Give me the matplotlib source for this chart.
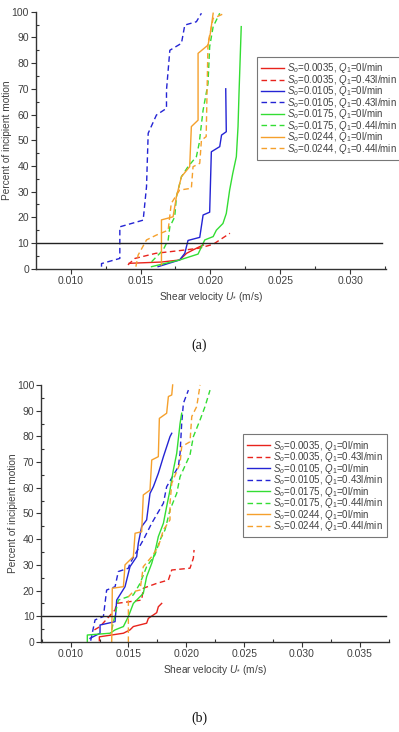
import matplotlib
matplotlib.use("Agg")
import matplotlib.pyplot as plt
from matplotlib.ticker import MultipleLocator

plt.rcParams['font.family'] = ['Liberation Sans', 'DejaVu Sans']
plt.rcParams['mathtext.fontset'] = 'custom'
plt.rcParams['mathtext.it'] = 'Liberation Sans:italic'
plt.rcParams['mathtext.rm'] = 'Liberation Sans'
plt.rcParams['mathtext.sf'] = 'Liberation Sans'

TXT = '#404040'

labels = [r'$S_o$=0.0035, $Q_1$=0l/min', r'$S_o$=0.0035, $Q_1$=0.43l/min',
          r'$S_o$=0.0105, $Q_1$=0l/min', r'$S_o$=0.0105, $Q_1$=0.43l/min',
          r'$S_o$=0.0175, $Q_1$=0l/min', r'$S_o$=0.0175, $Q_1$=0.44l/min',
          r'$S_o$=0.0244, $Q_1$=0l/min', r'$S_o$=0.0244, $Q_1$=0.44l/min']
colors = ['#e8231c', '#e8231c', '#2424d4', '#2424d4', '#33dd33', '#33dd33', '#f5a02c', '#f5a02c']
styles = ['-', '--', '-', '--', '-', '--', '-', '--']

# ---- Panel (a) data ----
a_red_x = [0.01419, 0.0165, 0.0178, 0.0183, 0.01876, 0.01924, 0.0195]
a_red_y = [2.1, 2.6, 3.4, 6.0, 7.3, 8.6, 9.2]
a_redd_x = [0.0141, 0.0146, 0.0161, 0.0182, 0.0192, 0.0202, 0.0214]
a_redd_y = [1.5, 4.0, 6.0, 7.3, 8.0, 9.5, 13.8]
a_blu_x = [0.01626, 0.0178, 0.01817, 0.0184, 0.01924, 0.01948, 0.01995, 0.02007, 0.02067, 0.0208, 0.02114, 0.0211]
a_blu_y = [0.8, 3.4, 6.0, 11.0, 12.2, 20.9, 22.0, 45.5, 47.5, 52.0, 53.3, 70.0]
a_blud_x = [0.01221, 0.01221, 0.01352, 0.01352, 0.01519, 0.01543, 0.01555, 0.01614, 0.01686, 0.01686, 0.0171, 0.01793, 0.01817, 0.019, 0.01936]
a_blud_y = [0.8, 2.0, 4.0, 16.3, 18.9, 31.9, 52.7, 59.8, 62.4, 69.5, 85.0, 87.7, 94.8, 96.1, 99.4]
a_grn_x = [0.01579, 0.0178, 0.01912, 0.0196, 0.0202, 0.02043, 0.0209, 0.02114, 0.02138, 0.0216, 0.02186, 0.02198, 0.02205, 0.02221]
a_grn_y = [0.8, 3.4, 5.7, 11.2, 12.5, 15.0, 17.6, 21.5, 30.6, 37.0, 43.6, 55.3, 68.2, 94.2]
a_grnd_x = [0.01579, 0.01662, 0.01698, 0.0171, 0.01745, 0.01757, 0.01793, 0.0184, 0.019, 0.0192, 0.01948, 0.01983, 0.01995, 0.0202, 0.02067]
a_grnd_y = [2.7, 7.3, 11.2, 16.3, 20.2, 28.0, 35.8, 39.7, 43.6, 48.8, 61.7, 72.0, 86.4, 94.2, 99.4]
a_org_x = [0.0165, 0.0165, 0.01733, 0.01757, 0.01793, 0.01852, 0.01864, 0.01912, 0.01912, 0.01983, 0.0200, 0.0202]
a_org_y = [1.5, 19.0, 20.2, 28.0, 35.8, 39.7, 55.3, 57.8, 83.8, 87.0, 91.6, 99.4]
a_orgd_x = [0.01467, 0.01483, 0.01543, 0.01614, 0.01698, 0.0172, 0.0178, 0.01864, 0.01876, 0.01924, 0.01936, 0.0197, 0.01983, 0.0202, 0.02102]
a_orgd_y = [0.8, 5.3, 11.2, 13.1, 15.0, 25.4, 30.6, 31.3, 39.7, 41.0, 50.0, 51.4, 87.7, 97.4, 99.4]

# ---- Panel (b) data ----
b_red_x = [0.01248, 0.01248, 0.01456, 0.01513, 0.01542, 0.01657, 0.01672, 0.01715, 0.01744, 0.01758, 0.01787]
b_red_y = [0.5, 2.0, 3.4, 4.7, 6.0, 7.3, 9.2, 10.5, 11.4, 13.7, 15.0]
b_redd_x = [0.01205, 0.01254, 0.01384, 0.01398, 0.01513, 0.01614, 0.01628, 0.01744, 0.01845, 0.01874, 0.02032, 0.02061, 0.02067]
b_redd_y = [4.7, 6.0, 12.5, 15.0, 15.7, 16.3, 20.9, 22.8, 24.1, 28.0, 28.7, 32.6, 35.8]
b_blu_x = [0.01167, 0.01254, 0.01254, 0.01384, 0.01398, 0.0147, 0.01513, 0.01571, 0.01585, 0.01614, 0.01657, 0.01686, 0.01715, 0.01758, 0.01802, 0.01859, 0.01874]
b_blu_y = [1.4, 3.4, 6.6, 7.9, 16.3, 21.5, 29.3, 33.2, 38.4, 44.9, 47.5, 57.8, 60.4, 65.6, 72.1, 79.9, 81.2]
b_blud_x = [0.01173, 0.01211, 0.01283, 0.01311, 0.01384, 0.01412, 0.01499, 0.01513, 0.01628, 0.01701, 0.01802, 0.0183, 0.01931, 0.01946, 0.0196, 0.01975, 0.02018]
b_blud_y = [0.5, 8.6, 9.9, 20.2, 21.5, 27.4, 28.7, 30.6, 39.7, 46.2, 54.0, 60.4, 68.2, 73.4, 85.0, 92.9, 98.0]
b_grn_x = [0.01144, 0.01144, 0.0134, 0.01384, 0.01456, 0.01499, 0.01542, 0.01628, 0.01657, 0.01701, 0.01729, 0.01758, 0.01802, 0.0183, 0.01859, 0.01888, 0.01917, 0.01946, 0.0196]
b_grn_y = [0.0, 2.7, 3.4, 4.7, 6.0, 9.9, 15.0, 18.9, 25.4, 30.6, 35.1, 41.0, 46.2, 52.7, 59.1, 66.9, 73.4, 85.0, 89.0]
b_grnd_x = [0.01355, 0.01412, 0.01542, 0.016, 0.01657, 0.01729, 0.01773, 0.01816, 0.01859, 0.01917, 0.01946, 0.02032, 0.02061, 0.02119, 0.02162, 0.02205]
b_grnd_y = [4.7, 16.3, 18.3, 22.8, 29.3, 33.9, 39.7, 43.6, 51.4, 57.8, 64.3, 72.8, 79.9, 86.4, 91.6, 98.0]
b_org_x = [0.01355, 0.0136, 0.01456, 0.0147, 0.01542, 0.01557, 0.01614, 0.01628, 0.01686, 0.01701, 0.01758, 0.01767, 0.0183, 0.01845, 0.01874, 0.01882]
b_org_y = [0.0, 20.9, 21.5, 30.0, 33.2, 42.3, 42.9, 57.2, 59.1, 70.8, 72.1, 87.0, 89.0, 95.5, 96.1, 100.0]
b_orgd_x = [0.01499, 0.01499, 0.01542, 0.016, 0.01628, 0.01701, 0.01758, 0.01802, 0.01859, 0.01859, 0.01874, 0.01946, 0.0196, 0.02032, 0.02047, 0.0209, 0.02119]
b_orgd_y = [0.0, 17.6, 19.6, 20.2, 29.3, 33.2, 37.1, 43.6, 47.5, 54.0, 61.7, 69.5, 76.0, 77.9, 87.7, 91.6, 100.0]

panel_a = [(a_red_x, a_red_y), (a_redd_x, a_redd_y), (a_blu_x, a_blu_y), (a_blud_x, a_blud_y),
           (a_grn_x, a_grn_y), (a_grnd_x, a_grnd_y), (a_org_x, a_org_y), (a_orgd_x, a_orgd_y)]
panel_b = [(b_red_x, b_red_y), (b_redd_x, b_redd_y), (b_blu_x, b_blu_y), (b_blud_x, b_blud_y),
           (b_grn_x, b_grn_y), (b_grnd_x, b_grnd_y), (b_org_x, b_org_y), (b_orgd_x, b_orgd_y)]

a_xticks = [0.010, 0.015, 0.020, 0.025, 0.030]
b_xticks = [0.010, 0.015, 0.020, 0.025, 0.030, 0.035]
yticks = list(range(0, 101, 10))
threshold = 10

fig = plt.figure(figsize=(3.99, 7.32), dpi=100)


def draw(rect, data, xlim, xticks, leg_anchor, caption, cap_y, ylab_x):
    ax = fig.add_axes(rect)
    for (x, y), c, ls, lab in zip(data, colors, styles, labels):
        ax.plot(x, y, color=c, ls=ls, lw=1.0, label=lab, clip_on=False,
                dashes=(4, 2.5) if ls == '--' else (None, None))
    ax.axhline(threshold, color='#222222', lw=1.0, xmax=0.99)
    ax.set_xlim(*xlim)
    ax.set_ylim(0, 100)
    ax.set_xticks(xticks)
    ax.set_xticklabels(['%.3f' % v for v in xticks])
    ax.set_yticks(yticks)
    ax.xaxis.set_minor_locator(MultipleLocator(0.0025))
    ax.yaxis.set_minor_locator(MultipleLocator(5))
    for s in ['top', 'right']:
        ax.spines[s].set_visible(False)
    for s in ['left', 'bottom']:
        ax.spines[s].set_color('#333333')
        ax.spines[s].set_linewidth(1.0)
    ax.tick_params(which='major', direction='out', length=3.5, width=0.8,
                   colors='#333333', labelsize=7.5, labelcolor=TXT, pad=1.5)
    ax.tick_params(which='minor', direction='in', length=2.5, width=0.8, colors='#333333')
    ax.set_xlabel(r'Shear velocity $U_{*}$ (m/s)', fontsize=7.3, color=TXT, labelpad=3)
    ax.set_ylabel('Percent of incipient motion', fontsize=7.3, color=TXT)
    ax.yaxis.set_label_coords(ylab_x, 0.5, transform=fig.transFigure)
    ax.yaxis.label.set_verticalalignment('center')
    leg = ax.legend(loc='upper left', bbox_to_anchor=leg_anchor, bbox_transform=fig.transFigure,
                    fontsize=7.0, frameon=True, fancybox=False, edgecolor='#555555',
                    labelspacing=-0.26, handlelength=2.3, handletextpad=0.3,
                    borderpad=0.45, borderaxespad=0.0, labelcolor=TXT)
    leg.get_frame().set_linewidth(0.8)
    fig.text(0.5, cap_y, caption, ha='center', va='center', fontsize=10,
             family='Liberation Serif', color='#111111')
    return ax


ax_a = draw([0.0902, 0.6329, 0.8765, 0.3511], panel_a, (0.00752, 0.03255), a_xticks,
            (0.644, 0.922), '(a)', 1 - 345 / 732, 7 / 399)
ax_a.yaxis.label.set_y(1 - 140 / 732)
ax_b = draw([0.1035, 0.1230, 0.8715, 0.3511], panel_b, (0.00746, 0.03753), b_xticks,
            (0.609, 0.4067), '(b)', 1 - 718 / 732, 13 / 399)
ax_b.yaxis.label.set_y(1 - 513 / 732)

fig.savefig('out.png', dpi=100)
